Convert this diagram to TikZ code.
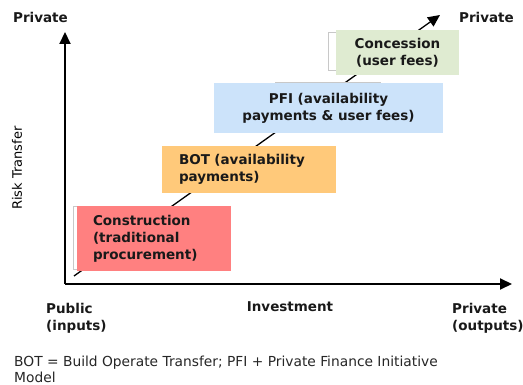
\documentclass[tikz,border=0pt]{standalone}
\usepackage{fontspec}
\setmainfont{DejaVu Sans}
\usetikzlibrary{arrows.meta}
\definecolor{consred}{RGB}{255,128,128}
\definecolor{botorange}{RGB}{255,201,122}
\definecolor{pfiblue}{RGB}{204,227,250}
\definecolor{concgreen}{RGB}{223,235,209}
\definecolor{ghostline}{RGB}{200,200,200}
\tikzset{
  axisline/.style={line width=2pt, -{Triangle[length=12pt,width=11pt]}},
  trendline/.style={line width=1.3pt, -{Triangle[length=12pt,width=11pt]}},
  ghost/.style={draw=ghostline, fill=white, line width=0.6pt},
  modelbox/.style={inner ysep=0pt, font=\bfseries\fontsize{13.5}{17}\selectfont, text=black!90},
  axislabel/.style={font=\bfseries\fontsize{13.5}{17}\selectfont, text=black!90, inner sep=0pt},
}
\begin{document}
\begin{tikzpicture}[x=1pt, y=-1pt]
\useasboundingbox (0,0) rectangle (523,385);

% axes
\coordinate (origin) at (65,284);
\coordinate (ytip) at (65,32);
\coordinate (xtip) at (512,284);
\draw[axisline] (origin) -- (ytip);
\draw[axisline] (origin) -- (xtip);

% rising trend through the models
\coordinate (trendstart) at (74,276);
\coordinate (trendend) at (440,15);
\draw[trendline] (trendstart) -- (trendend);

% faint placeholder frames behind the boxes
\draw[ghost] (73,206) rectangle (193,269);
\draw[ghost] (328,32) rectangle (400,70);
\draw[ghost] (275,82) rectangle (380,95);

% procurement models
\node[modelbox, fill=consred, text width=122pt, inner xsep=16pt, minimum height=65pt, align=left]
  (construction) at (154,239) {Construction\\(traditional\\procurement)};
\node[modelbox, fill=botorange, text width=140pt, inner xsep=17pt, minimum height=47pt, align=left]
  (bot) at (249,169.5) {BOT (availability\\payments)};
\node[modelbox, fill=pfiblue, minimum width=229pt, minimum height=50pt, align=center]
  (pfi) at (328.5,108) {PFI (availability\\payments \& user fees)};
\node[modelbox, fill=concgreen, minimum width=123pt, minimum height=45pt, align=center]
  (concession) at (397.5,52.5) {Concession\\(user fees)};

% axis labels
\node[axislabel] (ytop) at (40.5,17) {Private};
\node[axislabel] (diagtop) at (486.5,17) {Private};
\node[font=\fontsize{13}{15}\selectfont, rotate=90, inner sep=0pt] (risk) at (17,168) {Risk Transfer};
\node[axislabel, anchor=west, align=left] (public) at (46,318) {Public\\(inputs)};
\node[axislabel] (invest) at (290,307) {Investment};
\node[axislabel, anchor=west, align=left] (xend) at (452,318) {Private\\(outputs)};

% footnote
\node[font=\fontsize{13.8}{16}\selectfont, text=black!85, anchor=north west, align=left, inner sep=0pt]
  (note) at (14,356) {BOT = Build Operate Transfer; PFI + Private Finance Initiative\\Model};
\end{tikzpicture}
\end{document}
